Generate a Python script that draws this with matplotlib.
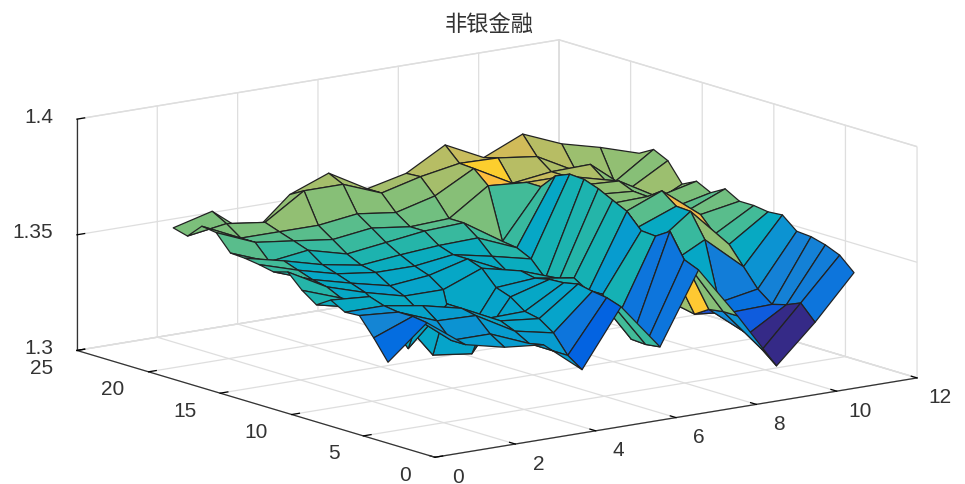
import numpy as np
import matplotlib
matplotlib.use('Agg')
import matplotlib.pyplot as plt
from matplotlib.colors import ListedColormap
from mpl_toolkits.mplot3d import proj3d

plt.rcParams['font.family'] = ['Liberation Sans', 'Noto Sans CJK SC', 'DejaVu Sans']

title = '非银金融'
x_grid = [0.40, 1.37, 2.33, 3.30, 4.27, 5.23, 6.20, 7.17, 8.13, 9.10, 10.07, 11.03, 12.00]
y_grid = [4.4, 5.4, 6.4, 7.4, 8.4, 9.4, 10.4, 11.4, 12.4, 13.4, 14.4, 15.4, 16.4, 17.4, 18.4, 19.4]
x_ticks = [0, 2, 4, 6, 8, 10, 12]
y_ticks = [0, 5, 10, 15, 20, 25]
z_ticks = [1.3, 1.35, 1.4]
z_labels = ['1.3', '1.35', '1.4']

# surface heights minus 1.3, one row per y
z_rows = [
 [.0318,.0461,.0339,.0300,.0283,.0148,.0392,.0191,.0496,.0270,.0026,.0187,.0374],
 [.0405,.0470,.0339,.0339,.0270,.0191,.0413,.0183,.0522,.0270,.0078,.0252,.0431],
 [.0483,.0470,.0405,.0400,.0305,.0270,.0422,.0187,.0626,.0261,.0126,.0226,.0457],
 [.0479,.0479,.0452,.0413,.0331,.0313,.0435,.0257,.0587,.0222,.0204,.0209,.0474],
 [.0513,.0500,.0248,.0413,.0322,.0326,.0422,.0344,.0592,.0235,.0226,.0257,.0479],
 [.0474,.0435,.0392,.0174,.0152,.0370,.0418,.0339,.0657,.0392,.0479,.0335,.0531],
 [.0518,.0457,.0392,.0348,.0152,.0392,.0405,.0378,.0687,.0457,.0583,.0413,.0526],
 [.0579,.0487,.0435,.0392,.0392,.0457,.0418,.0357,.0718,.0522,.0587,.0439,.0535],
 [.0561,.0500,.0457,.0418,.0435,.0479,.0400,.0339,.0740,.0566,.0635,.0505,.0535],
 [.0574,.0522,.0479,.0457,.0457,.0479,.0444,.0405,.0744,.0587,.0592,.0500,.0570],
 [.0583,.0544,.0500,.0470,.0487,.0500,.0505,.0435,.0718,.0609,.0596,.0496,.0535],
 [.0587,.0522,.0544,.0500,.0522,.0544,.0552,.0444,.0653,.0631,.0622,.0526,.0566],
 [.0657,.0587,.0566,.0544,.0566,.0544,.0552,.0666,.0653,.0653,.0609,.0452,.0535],
 [.0666,.0587,.0587,.0587,.0609,.0587,.0631,.0722,.0631,.0653,.0657,.0522,.0618],
 [.0605,.0631,.0609,.0718,.0718,.0653,.0696,.0726,.0722,.0700,.0609,.0535,.0648],
 [.0622,.0666,.0535,.0683,.0748,.0653,.0692,.0787,.0705,.0779,.0709,.0666,.0613],
]

# colour value of each face
c_rows = [
 [.16,.32,.33,.33,.33,.14,.50,.20,.60,.30,.00,.20],
 [.25,.30,.30,.33,.33,.20,.52,.20,.62,.28,.01,.22],
 [.30,.36,.34,.36,.36,.36,.55,.20,.86,.10,.11,.24],
 [.40,.40,.36,.36,.37,.37,.48,.45,.65,.25,.18,.24],
 [.42,.44,.38,.36,.36,.38,.45,.33,.66,.38,.22,.30],
 [.46,.44,.38,.38,.36,.37,.45,.45,.66,.50,.64,.40],
 [.48,.38,.40,.38,.38,.38,.44,.47,.66,.40,.70,.52],
 [.47,.40,.35,.37,.38,.40,.44,.46,.66,.55,.80,.55],
 [.50,.38,.38,.38,.38,.40,.42,.44,.68,.60,.62,.58],
 [.52,.42,.40,.42,.42,.42,.47,.38,.70,.62,.62,.55],
 [.52,.46,.45,.46,.47,.50,.52,.50,.70,.64,.60,.60],
 [.55,.50,.50,.50,.50,.55,.60,.53,.72,.66,.62,.62],
 [.60,.56,.55,.56,.56,.58,.62,.83,.72,.68,.62,.65],
 [.60,.60,.64,.62,.62,.62,.66,.88,.70,.68,.62,.62],
 [.60,.60,.64,.66,.66,.66,.70,.72,.74,.70,.65,.63],
]

parula_list = [
 (.2081,.1663,.5292),(.2116,.1898,.5777),(.2123,.2138,.6270),(.2081,.2386,.6771),
 (.1959,.2645,.7279),(.1707,.2919,.7792),(.1253,.3242,.8303),(.0591,.3598,.8683),
 (.0117,.3875,.8820),(.0060,.4086,.8828),(.0165,.4266,.8786),(.0329,.4430,.8720),
 (.0498,.4586,.8641),(.0629,.4737,.8554),(.0723,.4887,.8467),(.0779,.5040,.8384),
 (.0793,.5200,.8312),(.0749,.5375,.8263),(.0641,.5570,.8240),(.0488,.5772,.8228),
 (.0343,.5966,.8199),(.0265,.6137,.8135),(.0239,.6287,.8038),(.0231,.6418,.7913),
 (.0228,.6535,.7768),(.0267,.6642,.7607),(.0384,.6743,.7436),(.0590,.6838,.7254),
 (.0843,.6928,.7062),(.1133,.7015,.6859),(.1453,.7098,.6646),(.1801,.7177,.6424),
 (.2178,.7250,.6193),(.2586,.7317,.5954),(.3022,.7376,.5712),(.3482,.7424,.5473),
 (.3953,.7459,.5244),(.4420,.7481,.5033),(.4871,.7491,.4840),(.5300,.7491,.4661),
 (.5709,.7485,.4494),(.6099,.7473,.4337),(.6473,.7456,.4188),(.6834,.7435,.4044),
 (.7184,.7411,.3905),(.7525,.7384,.3768),(.7858,.7356,.3633),(.8185,.7327,.3498),
 (.8507,.7299,.3360),(.8824,.7274,.3217),(.9139,.7258,.3063),(.9450,.7261,.2886),
 (.9739,.7314,.2666),(.9938,.7455,.2403),(.9990,.7653,.2164),(.9955,.7861,.1967),
 (.9880,.8066,.1794),(.9789,.8271,.1633),(.9697,.8481,.1475),(.9626,.8705,.1309),
 (.9589,.8949,.1132),(.9598,.9218,.0948),(.9661,.9514,.0755),(.9763,.9831,.0538),
]
cmap = ListedColormap(parula_list)

X, Y = np.meshgrid(x_grid, y_grid)
Z = 1.3 + np.array(z_rows)
C = cmap(np.array(c_rows))

fig = plt.figure(figsize=(9.65, 4.85), dpi=100, facecolor='white')
ax = fig.add_axes([0.0015, -0.5414, 1, 2], projection='3d', proj_type='ortho', facecolor='none')
ax.set_box_aspect((1, 1, 0.395), zoom=0.887)
ax.view_init(elev=12.8, azim=-126.6)

ax.plot_surface(X, Y, Z, facecolors=C, rstride=1, cstride=1, shade=False,
                edgecolor='#222222', linewidth=0.9, antialiased=True)

ax.set_xlim(0, 12); ax.set_ylim(0, 25); ax.set_zlim(1.3, 1.4)
ax.set_xticks(x_ticks); ax.set_yticks(y_ticks); ax.set_zticks(z_ticks)
ax.set_xticklabels([''] * len(x_ticks))
ax.set_yticklabels([''] * len(y_ticks))
ax.set_zticklabels([''] * len(z_ticks))
grid_c = (0.87, 0.87, 0.87, 1)
for a in (ax.xaxis, ax.yaxis, ax.zaxis):
    a.set_pane_color((1, 1, 1, 1))
    a.pane.set_edgecolor(grid_c)
    a.line.set_color('#333333')
    a.line.set_linewidth(0.9)
    a._axinfo['grid']['color'] = grid_c
    a._axinfo['grid']['linewidth'] = 0.9
    a._axinfo['tick']['color'] = '#333333'
    a._axinfo['tick']['linewidth'] = {True: 0.9, False: 0.6}
    a._axinfo['tick']['inward_factor'] = 0.0
    a._axinfo['tick']['outward_factor'] = 0.2

# tick labels placed from the projected tick positions, MATLAB style
M = ax.get_proj()
def tick_label(text, xd, yd, zd, dx, dy, ha):
    px, py, _ = proj3d.proj_transform(xd, yd, zd, M)
    ax.annotate(text, xy=(px, py), xycoords='data', xytext=(dx, dy),
                textcoords='offset pixels', ha=ha, va='center',
                fontsize=15, color='#333333', annotation_clip=False)
for v in x_ticks:
    tick_label(str(v), v, 0, 1.3, 23, -19, 'center')
for v in y_ticks:
    tick_label(str(v), 0, v, 1.3, -24, -17, 'right')
for v, s in zip(z_ticks, z_labels):
    tick_label(s, 0, 25, v, -24, 3, 'right')

fig.text(0.507, 0.947, title, ha='center', va='center', fontsize=16, color='#333333')
fig.savefig('out.png', dpi=100)
